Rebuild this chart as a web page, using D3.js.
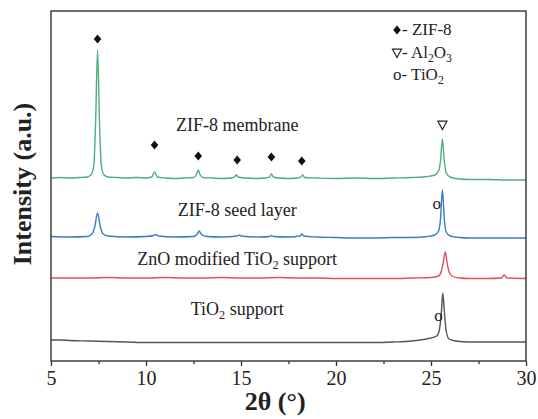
<!DOCTYPE html>
<html lang="en">
<head>
<meta charset="UTF-8">
<title>XRD patterns</title>
<script src="https://d3js.org/d3.v7.min.js"></script>
<style>
  body { margin: 0; background: #fff; }
  text { font-family: "Liberation Serif", "Times New Roman", serif; fill: #222; }
</style>
</head>
<body>
<script>
// 2θ (deg), intensity (a.u., curves already offset)
const membrane = [[5,183],[5.5,183.5],[6,183],[6.5,183.5],[6.9,184],[7.1,186],[7.25,195],[7.35,240],[7.45,311],[7.55,240],[7.65,195],[7.8,186],[8,184],[8.5,183.5],[9,183],[9.5,183.5],[10,183],[10.3,184],[10.45,189],[10.6,184],[11,183],[11.5,182.5],[12,183],[12.5,183.5],[12.65,186],[12.75,191],[12.85,186],[13,183.5],[13.5,183],[14,182.5],[14.5,183],[14.65,184],[14.75,186],[14.85,184],[15.2,183],[15.8,182.5],[16.3,183],[16.5,184],[16.6,187],[16.7,184],[17,183],[17.5,182.5],[18,183],[18.15,184],[18.25,186],[18.35,183.5],[19,183],[20,182.5],[21,183],[22,182.5],[23,183],[24,183.5],[24.8,184.5],[25.2,186],[25.4,190],[25.5,200],[25.6,222],[25.7,200],[25.8,188],[26,184],[26.5,182],[27,181.5],[28,181.5],[29,181],[30,181]];
const seed = [[5,124.5],[6,124],[6.9,124.5],[7.15,127],[7.3,134],[7.45,148],[7.6,134],[7.75,127],[8,125],[9,124],[10,124.5],[10.4,125.5],[10.5,126.5],[10.65,125],[11.5,124],[12.5,124.5],[12.7,127],[12.8,130],[12.9,127],[13.2,124.5],[14,124],[14.8,125],[14.9,126],[15,125],[16,124],[16.5,124.5],[16.6,125.5],[16.7,124.5],[17.5,124],[18.1,125],[18.2,127],[18.3,125],[19,124],[20,123.5],[21,123],[22,123],[23,123.5],[24,123.5],[24.8,124.5],[25.2,126],[25.4,130],[25.5,142],[25.6,171],[25.7,142],[25.8,129],[26,125],[26.5,123.5],[27,123],[28,123],[29,123],[30,123]];
const znoTio2 = [[5,83],[6,83],[7,83],[8,83.5],[9,83],[10,83],[11,83.5],[12,83],[13,83],[14,83.5],[15,83],[16,83],[17,83.5],[18,83],[19,83],[20,82.5],[21,82.5],[22,82.5],[23,82.5],[24,83],[25,83.5],[25.4,85],[25.55,90],[25.65,99],[25.75,109],[25.85,98],[25.95,89],[26.1,85],[26.5,83],[27,82.5],[28,82.5],[28.7,83],[28.85,86],[29,83],[30,82.5]];
const tio2 = [[5,21],[5.5,21],[6,20.5],[7,20],[8,19.5],[9,19],[10,18.5],[11,18.5],[12,18.5],[13,18.5],[14,18.5],[15,18.5],[16,18.5],[17,18.5],[18,18.5],[19,18.5],[20,18.5],[21,18.5],[22,18.5],[23,19],[24,20],[24.6,21.5],[25,23],[25.3,25],[25.45,32],[25.55,50],[25.62,68],[25.7,50],[25.8,30],[25.95,22],[26.3,20],[27,19],[28,19],[29,19],[30,19]];

const seriesNames = ["ZIF-8 membrane", "ZIF-8 seed layer", "ZnO modified TiO2 support", "TiO2 support"];
const seriesColors = ["#4fae7e", "#3c7bc9", "#df4f5c", "#555555"];

// reflection markers: 2θ, intensity where the marker sits
const zifMarks = [[7.45,322],[10.45,216],[12.75,205],[14.8,201],[16.6,204],[18.2,200]];
const al2o3Marks = [[25.6,236]];
const tio2Marks = [[25.3,152],[25.4,40]];

const xTicks = [5, 10, 15, 20, 25, 30];
const xMinor = [7.5, 12.5, 17.5, 22.5, 27.5];

const W = 538, H = 419;
const m = {left: 51, right: 12, top: 11, bottom: 58};
const serif = "'Liberation Serif', 'Times New Roman', serif";

const svg = d3.select("body").append("svg").attr("width", W).attr("height", H)
    .attr("font-family", serif);

const x = d3.scaleLinear().domain([5, 30]).range([m.left, W - m.right]);
const y = d3.scaleLinear().domain([0, 350]).range([H - m.bottom, m.top]);

const line = d3.line().x(d => x(d[0])).y(d => y(d[1])).curve(d3.curveMonotoneX);

[membrane, seed, znoTio2, tio2].forEach((s, i) => {
    svg.append("path")
        .datum(s)
        .attr("d", line)
        .attr("fill", "none")
        .attr("stroke", seriesColors[i])
        .attr("stroke-width", 1.4);
});

// frame
svg.append("rect")
    .attr("x", m.left).attr("y", m.top)
    .attr("width", W - m.left - m.right).attr("height", H - m.top - m.bottom)
    .attr("fill", "none").attr("stroke", "#333").attr("stroke-width", 1.4);

// x axis
const xAxis = svg.append("g")
    .attr("transform", `translate(0,${H - m.bottom})`)
    .call(d3.axisBottom(x).tickValues(xTicks).tickSize(5).tickPadding(5).tickFormat(d3.format("d")))
    .attr("font-family", serif);
xAxis.select(".domain").remove();
xAxis.selectAll(".tick line").attr("stroke", "#333").attr("stroke-width", 1.3);
xAxis.selectAll(".tick text").attr("font-size", 20).attr("fill", "#222");

svg.append("g")
    .attr("transform", `translate(0,${H - m.bottom})`)
    .call(d3.axisBottom(x).tickValues(xMinor).tickSize(3).tickFormat(""))
    .call(g => g.select(".domain").remove())
    .selectAll(".tick line").attr("stroke", "#333").attr("stroke-width", 1.3);

// axis titles
svg.append("text")
    .attr("x", x(16.8)).attr("y", 410)
    .attr("text-anchor", "middle")
    .attr("font-size", 26).attr("font-weight", "bold")
    .text("2θ (°)");

svg.append("text")
    .attr("transform", `translate(31,${y(177)}) rotate(-90)`)
    .attr("text-anchor", "middle")
    .attr("font-size", 26).attr("font-weight", "bold")
    .text("Intensity (a.u.)");

// text with subscripts ("_" prefix marks a subscript)
function subText(g, parts, size) {
    let shifted = false;
    parts.forEach(p => {
        const sub = p.startsWith("_");
        const ts = g.append("tspan").text(sub ? p.slice(1) : p);
        if (sub) {
            ts.attr("dy", 4).attr("font-size", size * 0.68);
            shifted = true;
        } else if (shifted) {
            ts.attr("dy", -4);
            shifted = false;
        }
    });
}

const curveLabels = [
    [["ZIF-8 membrane"], 230],
    [["ZIF-8 seed layer"], 145],
    [["ZnO modified TiO", "_2", " support"], 96],
    [["TiO", "_2", " support"], 46]
];
curveLabels.forEach(([parts, v]) => {
    const t = svg.append("text")
        .attr("x", x(14.8)).attr("y", y(v))
        .attr("text-anchor", "middle")
        .attr("font-size", 18);
    subText(t, parts, 18);
});

// markers
function diamondPath(cx, cy) {
    return `M${cx},${cy - 4.5}L${cx + 3.8},${cy}L${cx},${cy + 4.5}L${cx - 3.8},${cy}Z`;
}
svg.selectAll(".zif").data(zifMarks).join("path")
    .attr("d", d => diamondPath(x(d[0]), y(d[1]))).attr("fill", "#111");

function triPath(cx, cy, s) {
    return `M${cx - s / 2},${cy - s * 0.42}L${cx + s / 2},${cy - s * 0.42}L${cx},${cy + s * 0.5}Z`;
}
svg.selectAll(".al").data(al2o3Marks).join("path")
    .attr("d", d => triPath(x(d[0]), y(d[1]), 9))
    .attr("fill", "none").attr("stroke", "#222").attr("stroke-width", 1.2);

svg.selectAll(".ti").data(tio2Marks).join("text")
    .attr("x", d => x(d[0])).attr("y", d => y(d[1]))
    .attr("text-anchor", "middle").attr("font-size", 17)
    .text("o");

// legend
const lg = svg.append("g").attr("transform", "translate(393,0)");
lg.append("path").attr("d", diamondPath(4, 30)).attr("fill", "#111");
lg.append("text").attr("x", 9).attr("y", 35).attr("font-size", 17).text("- ZIF-8");
lg.append("path").attr("d", triPath(4, 53, 9)).attr("fill", "none").attr("stroke", "#222").attr("stroke-width", 1.2);
const t2 = lg.append("text").attr("x", 9).attr("y", 58).attr("font-size", 17);
subText(t2, ["- Al", "_2", "O", "_3"], 17);
const t3 = lg.append("text").attr("x", 0).attr("y", 80).attr("font-size", 17);
subText(t3, ["o- TiO", "_2"], 17);
</script>
</body>
</html>
